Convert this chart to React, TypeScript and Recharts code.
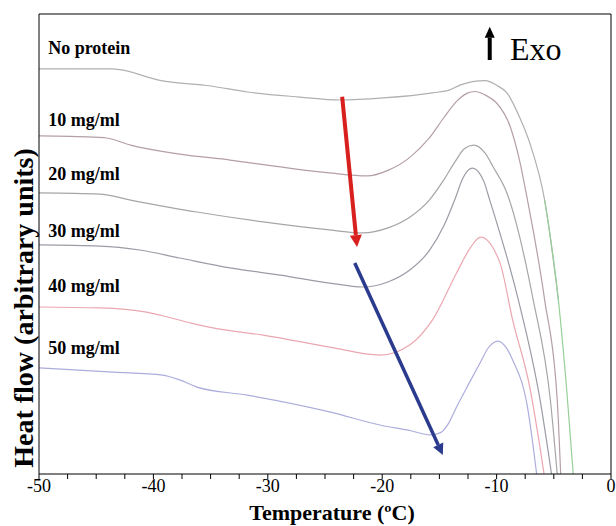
import { LineChart, Line, XAxis, YAxis, ReferenceLine, ReferenceDot } from 'recharts';

// DSC cooling curves, heat flow in arbitrary units (0..20)
const noProteinT = [-50, -43.6, -39.2, -35.0, -31.8, -27.2, -23.7, -19.9, -15.6, -14.1, -13.2, -11.0, -10.0, -9.1, -8.0, -7.1, -5.8, -4.6, -3.85, -3.3];
const noProteinHF = [17.61, 17.61, 17.09, 16.87, 16.61, 16.39, 16.26, 16.35, 16.57, 16.7, 16.91, 17.1, 16.9, 16.57, 15.52, 14.39, 11.91, 7.57, 3.52, 0];

const p10T = [-50, -45.3, -44.1, -42.0, -37.7, -33.3, -28.9, -24.6, -21.3, -19.5, -17.5, -15.9, -14.6, -13.5, -12.6, -11.9, -10.9, -10.0, -8.8, -8.0, -7.3, -5.8, -4.7, -4.4];
const p10HF = [14.7, 14.65, 14.61, 14.3, 13.91, 13.65, 13.35, 13.09, 12.96, 13.2, 13.8, 14.6, 15.5, 16.2, 16.55, 16.63, 16.45, 16.13, 15.09, 13.65, 11.91, 7.57, 3.22, 0];

const p20T = [-50, -44.7, -42.0, -36.2, -30.4, -24.6, -21.7, -19.5, -17.5, -15.9, -14.6, -13.6, -12.8, -12.0, -11.0, -10.3, -9.1, -6.8, -5.3, -4.7];
const p20HF = [12.22, 12.17, 11.91, 11.39, 10.96, 10.61, 10.48, 10.7, 11.2, 11.9, 12.8, 13.6, 14.15, 14.3, 13.95, 13.35, 12.22, 7.57, 3.22, 0];

const p30T = [-50, -44.7, -41.2, -37.7, -33.3, -28.9, -24.6, -21.7, -19.5, -17.5, -15.9, -14.6, -13.6, -13.0, -12.5, -12.1, -11.6, -11.1, -10.6, -8.1, -6.2, -5.2];
const p30HF = [9.96, 9.91, 9.74, 9.39, 8.96, 8.65, 8.3, 8.13, 8.35, 8.9, 9.7, 10.8, 12.0, 12.8, 13.2, 13.3, 13.15, 12.7, 11.91, 7.57, 3.22, 0];

const p40T = [-50, -44.7, -40.6, -37.1, -34.8, -30.4, -24.6, -20.2, -17.6, -15.6, -13.5, -12.3, -11.4, -9.7, -8.6, -7.1, -5.85];
const p40HF = [7.26, 7.22, 7.04, 6.61, 6.35, 6.04, 5.52, 5.17, 5.61, 6.7, 8.74, 9.83, 10.3, 9.17, 6.7, 3.78, 0];

const p50T = [-50, -43.5, -39.2, -37.7, -36.2, -31.8, -24.6, -20.2, -17.5, -15.8, -14.9, -14.2, -13.5, -12.4, -11.45, -10.7, -9.9, -9.1, -8.6, -7.3, -6.5];
const p50HF = [4.61, 4.43, 4.3, 4.09, 3.78, 3.43, 2.7, 2.13, 1.88, 1.7, 1.8, 2.2, 2.91, 3.95, 4.83, 5.5, 5.78, 5.45, 4.96, 2.91, 0];

const xTicks = [-50, -47.5, -45, -42.5, -40, -37.5, -35, -32.5, -30, -27.5, -25, -22.5, -20, -17.5, -15, -12.5, -10, -7.5, -5, -2.5, 0];
const yTicks = [0, 1, 2, 3, 4, 5, 6, 7, 8, 9, 10, 11, 12, 13, 14, 15, 16, 17, 18, 19, 20];

const seriesNames = ['No protein', '10 mg/ml', '20 mg/ml', '30 mg/ml', '40 mg/ml', '50 mg/ml'];
const labelY = [18.26, 15.13, 12.78, 10.3, 7.91, 5.22];

const toRows = (t: number[], hf: number[]) => t.map((v, i) => ({ t: v, hf: hf[i] }));

const npRows = toRows(noProteinT, noProteinHF);
const curves = [
  { rows: npRows.slice(0, 18), color: '#b0b0b0' },
  { rows: npRows.slice(16), color: '#97cf97' },
  { rows: toRows(p10T, p10HF), color: '#b59fa6' },
  { rows: toRows(p20T, p20HF), color: '#a6a6a6' },
  { rows: toRows(p30T, p30HF), color: '#9c9ca6' },
  { rows: toRows(p40T, p40HF), color: '#eba7b0' },
  { rows: toRows(p50T, p50HF), color: '#adaddd' },
];

const serif = "'Liberation Serif', 'Times New Roman', serif";

function arrow(color: string, w: number, headL: number, headW: number) {
  return (props: any) => {
    const { x1, y1, x2, y2 } = props;
    const dx = x2 - x1;
    const dy = y2 - y1;
    const len = Math.sqrt(dx * dx + dy * dy) || 1;
    const ux = dx / len;
    const uy = dy / len;
    const bx = x2 - ux * headL;
    const by = y2 - uy * headL;
    const pts = `${x2},${y2} ${bx - uy * headW},${by + ux * headW} ${bx + uy * headW},${by - ux * headW}`;
    return (
      <g>
        <line x1={x1} y1={y1} x2={bx} y2={by} stroke={color} strokeWidth={w} />
        <polygon points={pts} fill={color} />
      </g>
    );
  };
}

export default function App() {
  return (
    <div style={{ position: 'absolute', left: 0, top: 0, background: '#fff' }}>
      <LineChart width={616} height={526} margin={{ top: 14, right: 5, bottom: 0, left: 0 }}>
        <XAxis
          type="number"
          dataKey="t"
          domain={[-50, 0]}
          ticks={xTicks}
          interval={0}
          allowDataOverflow
          height={52}
          tickSize={5}
          tickMargin={0}
          stroke="#000"
          tickFormatter={(v: number) => (v % 10 === 0 ? String(v) : '')}
          tick={{ fill: '#000', fontSize: 18, fontFamily: serif }}
          label={{
            content: () => (
              <text x={332} y={520} textAnchor="middle" fontFamily={serif} fontWeight="bold" fontSize={22} fill="#000">
                Temperature (ºC)
              </text>
            ),
          }}
        />
        <YAxis
          type="number"
          domain={[0, 20]}
          ticks={yTicks}
          interval={0}
          allowDataOverflow
          width={39}
          tickSize={5}
          tick={false}
          stroke="#000"
          label={{
            content: () => (
              <text x={33} y={308} transform="rotate(-90 33 308)" textAnchor="middle" fontFamily={serif} fontWeight="bold" fontSize={28} fill="#000">
                Heat flow (arbitrary units)
              </text>
            ),
          }}
        />
        <ReferenceLine y={20} stroke="#000" />
        <ReferenceLine x={0} stroke="#000" />
        {curves.map((c, i) => (
          <Line
            key={i}
            data={c.rows}
            dataKey="hf"
            type="monotone"
            stroke={c.color}
            strokeWidth={1.2}
            dot={false}
            activeDot={false}
            isAnimationActive={false}
          />
        ))}
        {seriesNames.map((name, i) => (
          <ReferenceDot
            key={name}
            x={-49.2}
            y={labelY[i]}
            shape={(p: any) => (
              <text x={p.cx} y={p.cy} fontFamily={serif} fontWeight="bold" fontSize={18} fill="#000">
                {name}
              </text>
            )}
          />
        ))}
        <ReferenceLine
          segment={[{ x: -23.5, y: 16.4 }, { x: -22.2, y: 9.87 }]}
          shape={arrow('#d8201e', 4, 12, 6)}
        />
        <ReferenceLine
          segment={[{ x: -22.4, y: 9.17 }, { x: -14.7, y: 0.83 }]}
          shape={arrow('#2a3b8e', 3.5, 11, 5.5)}
        />
        <ReferenceLine
          segment={[{ x: -10.6, y: 18.0 }, { x: -10.6, y: 19.45 }]}
          shape={arrow('#000', 4, 11, 5)}
        />
        <ReferenceDot
          x={-8.83}
          y={18.0}
          shape={(p: any) => (
            <text x={p.cx} y={p.cy} fontFamily={serif} fontSize={32} fill="#000">
              Exo
            </text>
          )}
        />
      </LineChart>
    </div>
  );
}
